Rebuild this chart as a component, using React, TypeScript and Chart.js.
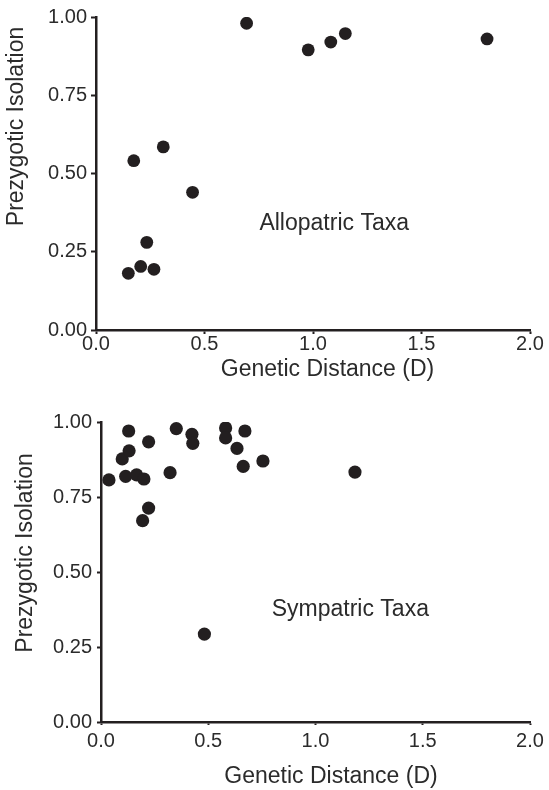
import React, { useEffect, useRef } from "react";
import { Chart, registerables } from "chart.js";

Chart.register(...registerables);

// ---- data ----
const xTickValues = [0, 0.5, 1.0, 1.5, 2.0];
const yTickValues = [0, 0.25, 0.5, 0.75, 1.0];

const allopatricD = [0.694, 0.31, 0.174, 0.445, 0.234, 0.149, 0.206, 0.267, 0.978, 1.082, 1.149, 1.802];
const allopatricIso = [0.98, 0.585, 0.541, 0.44, 0.28, 0.181, 0.203, 0.194, 0.895, 0.92, 0.947, 0.93];

const sympatricD = [
  0.037, 0.129, 0.099, 0.131, 0.115, 0.166, 0.2, 0.222, 0.222, 0.194, 0.351,
  0.322, 0.424, 0.428, 0.581, 0.581, 0.671, 0.634, 0.663, 0.755, 1.184, 0.482,
];
const sympatricIso = [
  0.807, 0.97, 0.877, 0.904, 0.819, 0.824, 0.81, 0.934, 0.713, 0.671, 0.978,
  0.831, 0.959, 0.929, 0.98, 0.947, 0.97, 0.912, 0.852, 0.87, 0.833, 0.293,
];

const xTitle = "Genetic Distance (D)";
const yTitle = "Prezygotic Isolation";
const topLabel = "Allopatric Taxa";
const bottomLabel = "Sympatric Taxa";

const INK = "#231f20";
const TEXT = "#2b2b2b";
const FAMILY = '"Liberation Sans", Arial, Helvetica, sans-serif';

type Geo = {
  height: number;
  padTop: number;
  padRight: number;
  yWidth: number;
  xHeight: number;
  xTickLen: number;
  xTickPad: number;
  yTickLen: number;
  yTickPad: number;
  pointRadius: number;
  xTitlePos: [number, number];
  yTitlePos: [number, number];
  labelText: string;
  labelAt: [number, number];
};

const textPlugin = (g: Geo) => ({
  id: "texts",
  afterDraw(chart: any) {
    const ctx = chart.ctx;
    ctx.save();
    ctx.fillStyle = TEXT;
    ctx.font = `23px ${FAMILY}`;
    // x title
    ctx.textAlign = "center";
    ctx.textBaseline = "alphabetic";
    ctx.fillText(xTitle, g.xTitlePos[0], g.xTitlePos[1]);
    // y title
    ctx.save();
    ctx.translate(g.yTitlePos[0], g.yTitlePos[1]);
    ctx.rotate(-Math.PI / 2);
    ctx.textAlign = "center";
    ctx.textBaseline = "middle";
    ctx.fillText(yTitle, 0, 0);
    ctx.restore();
    // annotation
    const sx = chart.scales.x;
    const sy = chart.scales.y;
    ctx.textAlign = "left";
    ctx.textBaseline = "alphabetic";
    ctx.fillText(g.labelText, sx.getPixelForValue(g.labelAt[0]), sy.getPixelForValue(g.labelAt[1]));
    ctx.restore();
  },
});

function makeConfig(xs: number[], ys: number[], g: Geo): any {
  return {
    type: "scatter",
    data: {
      datasets: [
        {
          data: xs.map((x, i) => ({ x, y: ys[i] })),
          backgroundColor: INK,
          borderWidth: 0,
          pointRadius: g.pointRadius,
          pointHoverRadius: g.pointRadius,
        },
      ],
    },
    options: {
      responsive: false,
      animation: false,
      layout: { padding: { top: g.padTop, right: g.padRight, left: 0, bottom: 0 } },
      plugins: { legend: { display: false }, tooltip: { enabled: false } },
      scales: {
        x: {
          type: "linear",
          min: 0,
          max: 2,
          afterFit: (s: any) => {
            s.height = g.xHeight;
          },
          afterBuildTicks: (s: any) => {
            s.ticks = xTickValues.map((v) => ({ value: v }));
          },
          grid: {
            drawOnChartArea: false,
            drawTicks: true,
            tickLength: g.xTickLen,
            tickWidth: 2,
            tickColor: INK,
          },
          border: { display: true, color: INK, width: 2.5 },
          ticks: {
            padding: g.xTickPad,
            color: TEXT,
            font: { family: FAMILY, size: 20 },
            maxRotation: 0,
            callback: (v: any) => Number(v).toFixed(1),
          },
        },
        y: {
          type: "linear",
          min: 0,
          max: 1,
          afterFit: (s: any) => {
            s.width = g.yWidth;
          },
          afterBuildTicks: (s: any) => {
            s.ticks = yTickValues.map((v) => ({ value: v }));
          },
          grid: {
            drawOnChartArea: false,
            drawTicks: true,
            tickLength: g.yTickLen,
            tickWidth: 2,
            tickColor: INK,
          },
          border: { display: true, color: INK, width: 2.5 },
          ticks: {
            padding: g.yTickPad,
            color: TEXT,
            font: { family: FAMILY, size: 20 },
            callback: (v: any) => Number(v).toFixed(2),
          },
        },
      },
    },
    plugins: [textPlugin(g)],
  };
}

const topGeo: Geo = {
  height: 395,
  padTop: 17,
  padRight: 19,
  yWidth: 96,
  xHeight: 65,
  xTickLen: 4,
  xTickPad: -2,
  yTickLen: 5,
  yTickPad: 4,
  pointRadius: 6.4,
  xTitlePos: [327.5, 376],
  yTitlePos: [17, 126.5],
  labelText: topLabel,
  labelAt: [0.753, 0.318],
};

const bottomGeo: Geo = {
  height: 395,
  padTop: 27,
  padRight: 19,
  yWidth: 101,
  xHeight: 68,
  xTickLen: 3,
  xTickPad: 4,
  yTickLen: 4,
  yTickPad: 5,
  pointRadius: 6.6,
  xTitlePos: [331, 388],
  yTitlePos: [26, 158],
  labelText: bottomLabel,
  labelAt: [0.796, 0.352],
};

function ScatterPanel({ xs, ys, geo }: { xs: number[]; ys: number[]; geo: Geo }) {
  const ref = useRef<HTMLCanvasElement | null>(null);
  useEffect(() => {
    if (!ref.current) return;
    const chart = new Chart(ref.current, makeConfig(xs, ys, geo));
    return () => chart.destroy();
  }, [xs, ys, geo]);
  return (
    <canvas
      ref={ref}
      width={549}
      height={geo.height}
      style={{ display: "block", width: 549, height: geo.height }}
    />
  );
}

export default function App() {
  return (
    <div style={{ position: "absolute", left: 0, top: 0, width: 549, height: 790, background: "#fff" }}>
      <ScatterPanel xs={allopatricD} ys={allopatricIso} geo={topGeo} />
      <ScatterPanel xs={sympatricD} ys={sympatricIso} geo={bottomGeo} />
    </div>
  );
}
